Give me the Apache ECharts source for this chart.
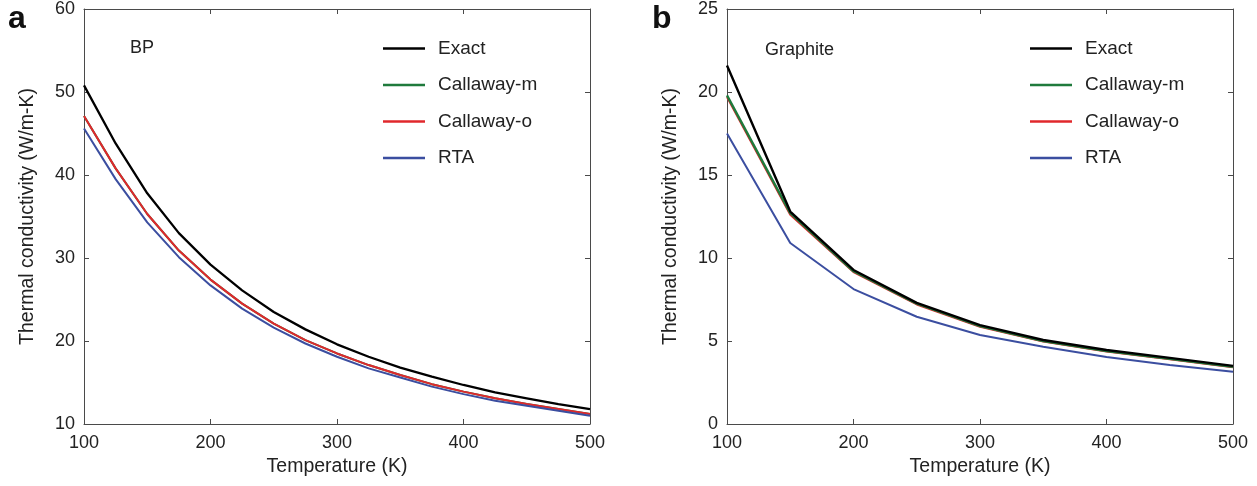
<!DOCTYPE html>
<html>
<head>
<meta charset="utf-8">
<script src="https://cdn.jsdelivr.net/npm/echarts@6/dist/echarts.min.js"></script>
<style>
html,body{margin:0;padding:0;background:#fff;}
#chart{width:1257px;height:486px;}
</style>
</head>
<body>
<div id="chart"></div>
<script>
// ---- Data ----
var seriesNames = ['Exact', 'Callaway-m', 'Callaway-o', 'RTA'];

// Panel a: BP
var tempsA = [100, 125, 150, 175, 200, 225, 250, 275, 300, 325, 350, 375, 400, 425, 450, 475, 500];
var bpExact     = [50.8, 43.8, 37.8, 33.0, 29.2, 26.1, 23.5, 21.4, 19.6, 18.1, 16.8, 15.7, 14.7, 13.8, 13.1, 12.4, 11.8];
var bpCallawayM = [47.1, 40.8, 35.3, 30.9, 27.4, 24.5, 22.1, 20.1, 18.5, 17.1, 15.9, 14.8, 13.9, 13.1, 12.4, 11.8, 11.2];
var bpCallawayO = [47.1, 40.8, 35.3, 30.9, 27.4, 24.5, 22.1, 20.1, 18.5, 17.1, 15.9, 14.8, 13.9, 13.1, 12.4, 11.8, 11.2];
var bpRTA       = [45.6, 39.5, 34.3, 30.1, 26.7, 23.9, 21.6, 19.7, 18.1, 16.7, 15.6, 14.5, 13.6, 12.8, 12.2, 11.6, 11.0];

// Panel b: Graphite
var tempsB = [100, 150, 200, 250, 300, 350, 400, 450, 500];
var grExact     = [21.6, 12.8, 9.28, 7.3, 5.96, 5.06, 4.46, 3.98, 3.5];
var grCallawayM = [19.8, 12.7, 9.2, 7.25, 5.9, 5.0, 4.4, 3.93, 3.45];
var grCallawayO = [19.7, 12.6, 9.15, 7.2, 5.85, 4.97, 4.37, 3.9, 3.42];
var grRTA       = [17.5, 10.9, 8.13, 6.46, 5.36, 4.65, 4.04, 3.55, 3.15];

var xTicks = [100, 200, 300, 400, 500];
var xName = 'Temperature (K)';
var yName = 'Thermal conductivity (W/m-K)';

// ---- Styling ----
var colors = {'Exact': '#000000', 'Callaway-m': '#1f7a3c', 'Callaway-o': '#e0282c', 'RTA': '#3b4ea0'};
var FONT = '"Liberation Sans", Arial, sans-serif';
var axisColor = '#4a4a4a';
var textColor = '#222';

function pairs(xs, ys) { return xs.map(function (x, i) { return [x, ys[i]]; }); }

function mainX(gi) {
  return {
    type: 'value', gridIndex: gi, min: 100, max: 500, interval: 100,
    axisLine: {show: true, onZero: false, lineStyle: {color: axisColor, width: 1}},
    axisTick: {show: true, inside: true, length: 5, lineStyle: {color: axisColor}},
    axisLabel: {color: textColor, fontSize: 18, fontFamily: FONT, margin: 10},
    splitLine: {show: false},
    name: xName, nameLocation: 'middle', nameGap: 32,
    nameTextStyle: {color: textColor, fontSize: 19.5, fontFamily: FONT}
  };
}
function topX(gi) {
  return {
    type: 'value', gridIndex: gi, position: 'top', min: 100, max: 500, interval: 100,
    axisLine: {show: true, onZero: false, lineStyle: {color: axisColor, width: 1}},
    axisTick: {show: true, inside: true, length: 5, lineStyle: {color: axisColor}},
    axisLabel: {show: false}, splitLine: {show: false}
  };
}
function mainY(gi, mn, mx, iv) {
  return {
    type: 'value', gridIndex: gi, min: mn, max: mx, interval: iv,
    axisLine: {show: true, onZero: false, lineStyle: {color: axisColor, width: 1}},
    axisTick: {show: true, inside: true, length: 5, lineStyle: {color: axisColor}},
    axisLabel: {color: textColor, fontSize: 18, fontFamily: FONT, margin: 9},
    splitLine: {show: false},
    name: yName, nameLocation: 'middle', nameGap: 46,
    nameTextStyle: {color: textColor, fontSize: 19.5, fontFamily: FONT}
  };
}
function rightY(gi, mn, mx, iv) {
  return {
    type: 'value', gridIndex: gi, position: 'right', min: mn, max: mx, interval: iv,
    axisLine: {show: true, onZero: false, lineStyle: {color: axisColor, width: 1}},
    axisTick: {show: true, inside: true, length: 5, lineStyle: {color: axisColor}},
    axisLabel: {show: false}, splitLine: {show: false}
  };
}

function line(name, xs, ys, gi, z, w) {
  return {
    name: name, type: 'line', xAxisIndex: gi, yAxisIndex: gi,
    data: pairs(xs, ys), showSymbol: false, symbol: 'none', z: z,
    lineStyle: {color: colors[name], width: w}, itemStyle: {color: colors[name]},
    animation: false
  };
}

function legend(left) {
  return {
    data: seriesNames, orient: 'vertical', left: left, top: 39, padding: 0,
    icon: 'rect', itemWidth: 42, itemHeight: 2.5, itemGap: 17.5,
    selectedMode: false,
    textStyle: {color: textColor, fontSize: 19, fontFamily: FONT, lineHeight: 19, padding: [0, 0, 0, 8]}
  };
}

var chart = echarts.init(document.getElementById('chart'), null, {renderer: 'canvas'});
chart.setOption({
  animation: false,
  backgroundColor: '#fff',
  grid: [
    {left: 84, top: 9, width: 506, height: 415},
    {left: 727, top: 9, width: 506, height: 415}
  ],
  xAxis: [mainX(0), mainX(1), topX(0), topX(1)],
  yAxis: [mainY(0, 10, 60, 10), mainY(1, 0, 25, 5), rightY(0, 10, 60, 10), rightY(1, 0, 25, 5)],
  legend: [legend(383), legend(1030)],
  series: [
    line('Callaway-m', tempsA, bpCallawayM, 0, 2, 2),
    line('Callaway-o', tempsA, bpCallawayO, 0, 3, 2),
    line('RTA', tempsA, bpRTA, 0, 4, 2),
    line('Exact', tempsA, bpExact, 0, 5, 2.3),
    line('Callaway-o', tempsB, grCallawayO, 1, 2, 2),
    line('Callaway-m', tempsB, grCallawayM, 1, 3, 2.4),
    line('RTA', tempsB, grRTA, 1, 4, 2),
    line('Exact', tempsB, grExact, 1, 5, 2.4)
  ],
  graphic: [
    {type: 'text', left: 8, top: 3, style: {text: 'a', fontSize: 32, fontWeight: 'bold', fontFamily: FONT, fill: '#111'}},
    {type: 'text', left: 652, top: 3, style: {text: 'b', fontSize: 32, fontWeight: 'bold', fontFamily: FONT, fill: '#111'}},
    {type: 'text', left: 130, top: 39, style: {text: 'BP', fontSize: 18, fontFamily: FONT, fill: textColor}},
    {type: 'text', left: 765, top: 41, style: {text: 'Graphite', fontSize: 18, fontFamily: FONT, fill: textColor}}
  ]
});
</script>
</body>
</html>
